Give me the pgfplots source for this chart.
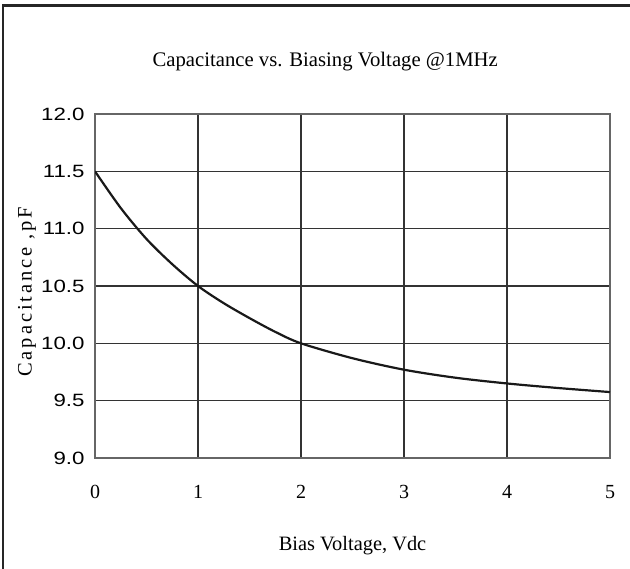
\documentclass[border=0pt]{standalone}
\usepackage{fontspec}
\setmainfont{Liberation Serif}
\newfontfamily\ysans[FakeStretch=1.25]{Liberation Sans}
\usepackage{pgfplots}
\pgfplotsset{compat=1.18}

\begin{document}
\begin{tikzpicture}
\path[use as bounding box] (0,0) rectangle (630pt,569pt);
% page frame (only top and left edges are inside the picture)
\draw[line width=2.5pt, black!85] (3pt,0) -- (3pt,563.5pt) -- (630pt,563.5pt);

\begin{axis}[
    at={(95pt,111pt)}, anchor=south west,
    scale only axis,
    width=515pt, height=344pt,
    xmin=0, xmax=5,
    ymin=9, ymax=12,
    xtick={0,1,2,3,4,5},
    ytick={9,9.5,10,10.5,11,11.5,12},
    yticklabels={9.0,9.5,10.0,10.5,11.0,11.5,12.0},
    /pgf/number format/assume math mode=true,
    major tick length=0pt,
    grid=major,
    grid style={line width=1.1pt, black!80},
    axis line style={line width=1.1pt, black!60},
    xticklabel style={font=\fontsize{20}{20}\selectfont, yshift=-24pt},
    yticklabel style={font=\ysans\fontsize{17.8}{17.8}\selectfont, xshift=-7pt},
    title={Capacitance vs. Biasing Voltage @1MHz},
    title style={font=\fontsize{20.7}{20.7}\selectfont, at={(0.447,1)}, anchor=base, yshift=41pt},
    xlabel={Bias Voltage, Vdc},
    xlabel style={font=\fontsize{20.4}{20.4}\selectfont, at={(0.5,0)}, anchor=base, yshift=-93pt},
    ylabel={Capacitance ,pF},
    ylabel style={font=\addfontfeature{LetterSpace=14}\fontsize{20.5}{20.5}\selectfont, at={(0,0.483)}, anchor=center, yshift=68pt},
]
\addplot[black!90, line width=2.2pt, smooth] coordinates {
    (0,11.50) (0.25,11.18) (0.5,10.91) (0.75,10.69) (1,10.50)
    (1.25,10.35) (1.5,10.22) (1.75,10.10) (2,10.00) (2.5,9.87)
    (3,9.77) (3.5,9.70) (4,9.65) (4.5,9.61) (5,9.575)
};
\end{axis}
\end{tikzpicture}
\end{document}
